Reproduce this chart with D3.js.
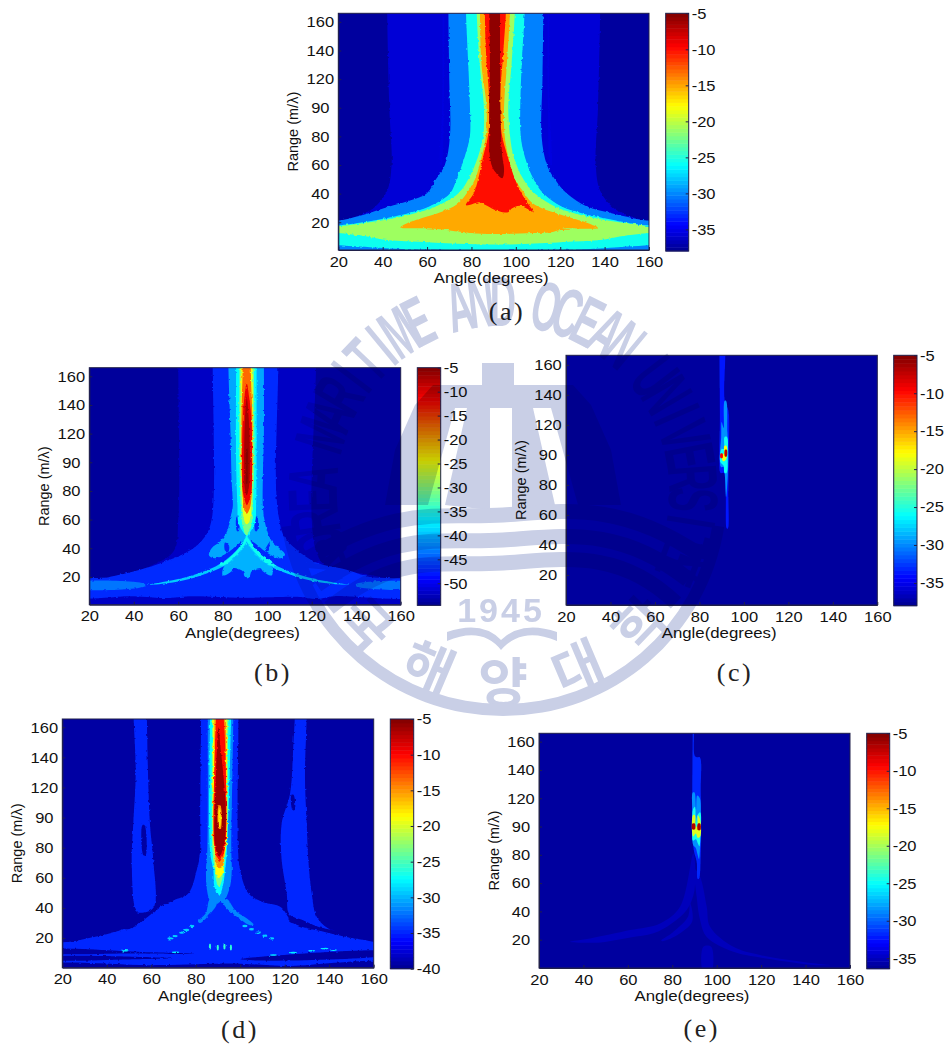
<!DOCTYPE html>
<html>
<head>
<meta charset="utf-8">
<style>
body { margin: 0; background: #fff; }
svg text { font-family: "Liberation Sans", Arial, sans-serif; fill: #111; }
.caption { font-family: "Liberation Serif", serif !important; font-size: 26px; letter-spacing: 2.5px; fill: #222; }
.watermark { mix-blend-mode: multiply; }
.watermark text { fill: #c9cfe6; font-weight: bold; }
</style>
<script src="https://cdn.jsdelivr.net/npm/d3@7"></script>
</head>
<body>
<svg id="chart" width="947" height="1044"></svg>
<script>
// axis ticks, same on every panel. the source figure prints "90" at the 100 position
var angleTicks = [20, 40, 60, 80, 100, 120, 140, 160];
var rangeTicks = [20, 40, 60, 80, 100, 120, 140, 160];
var rangeLabels = ["20", "40", "60", "80", "90", "120", "140", "160"];

// colorbar domains and ticks (dB)
var aColorDomain = [-38, -5], bColorDomain = [-54.6, -5], cColorDomain = [-38, -5], dColorDomain = [-40, -5], eColorDomain = [-36.4, -5];
var aColorTicks = [-5, -10, -15, -20, -25, -30, -35];
var bColorTicks = [-5, -10, -15, -20, -25, -30, -35, -40, -45, -50];
var cColorTicks = [-5, -10, -15, -20, -25, -30, -35];
var dColorTicks = [-5, -10, -15, -20, -25, -30, -35, -40];
var eColorTicks = [-5, -10, -15, -20, -25, -30, -35];

// contour outlines as [angle, range] pairs, level in dB next to each panel
var aNavy = [[42,170],[43,100],[44,60],[42,42],[36,30],[28,24],[20,20.5],[12,18],[12,-3],[168,-3],[168,18],[160,20.5],[152,24],[144,30],[138,42],[136,60],[137,100],[138,170]];
var aBlue = [[69.6,170],[70,120],[70.3,80],[68,60],[64,50],[59.8,40],[52,35],[43,31],[33,26],[22,21.6],[12,19],[12,-3],[168,-3],[168,19],[157,21.6],[144,26],[132,31],[123,40],[117.6,50],[114,60],[111.6,80],[112,120],[112.4,170]];
var aStripeL = [[67,170],[67.8,170],[67.5,100],[66.5,60],[66,60],[66.8,100]];
var aStripeR = [[114.3,170],[115,170],[115.2,100],[116,60],[115.5,60],[114.5,100]];
var aCyan = [[77.5,170],[78.6,129],[79.3,101],[79.3,80],[77,66],[73.3,50],[70.3,40],[61,31],[50.8,26],[37.3,21.6],[22,18],[12,16.5],[12,5],[20,4],[30,3],[50,1.2],[132,1.2],[150,3],[160,4],[168,5],[168,16.5],[157,18],[144,21.6],[130.4,26],[120.6,31],[112.4,40],[108,50],[104,66],[102.2,80],[102,101],[102.6,129],[104,170]];
var aLime = [[82.3,170],[83.8,129],[85.6,101],[85.3,80],[83,66],[78.6,50],[74,40],[64,31],[53.8,26],[38.8,21],[23.8,17.8],[12,16],[12,13.5],[20,12.5],[31,10.5],[40,8],[54,6.5],[74,5],[91,4.4],[106,5],[126,6.5],[140,8],[149,10.5],[160,12.5],[168,13.5],[168,16],[157,17.8],[142,21],[127,26],[117.6,31],[108.6,40],[103.4,50],[99,66],[97.4,80],[96.6,101],[98,129],[99.6,170]];
var aOrange = [[83.8,170],[84.6,129],[86.8,101],[86.5,80],[84.6,66],[81.6,50],[77.8,40],[75.6,35.6],[72,31],[66,27],[60,24],[51,19.3],[48,16.4],[60,15.8],[68,14.8],[74,13.5],[82,12.2],[95,11.8],[108,12.4],[116,13],[120,14.5],[125,15],[121,15.7],[129,15.5],[137,16],[132.6,19.3],[123,24],[110,31],[106,35.6],[104,40],[99.6,50],[96.6,66],[95,80],[94.7,101],[95.9,129],[97.4,170]];
var aRed = [[86,170],[86.5,140],[88,105],[87.6,82],[85.3,66],[83,50],[81,40],[77.5,32],[79,32],[83.5,34],[87,31.5],[91.5,28],[96.5,27],[98,29.5],[102,31.5],[108,27],[105,34],[102.6,40],[99.6,50],[96.3,66],[93.6,82],[92.9,105],[94.4,140],[95.6,170]];
var aDark = [[88,170],[88.3,129],[88,82],[88.3,66],[89.9,57],[93.9,50.7],[94.7,56.6],[93.9,66],[93.3,82],[92.9,129],[92.9,170]];
var aLevels = [-35.7, -30.2, -35.4, -35.4, -25.6, -21, -15.1, -10, -5.6];
var aBands = [aNavy, aBlue, aStripeL, aStripeR, aCyan, aLime, aOrange, aRed, aDark];

var bNavy = [[60,170],[60,60],[58,38],[48,28],[36,22],[20,17.5],[12,16],[12,-3],[168,-3],[168,16],[160,17.5],[144,22],[126,28],[122,38],[120,60],[122,170]];
var bBlue = [[75.5,170],[76,80],[75,60],[72.8,50],[66.8,40],[53,30],[42.8,25],[29,20],[12,16.5],[12,7],[40,6.5],[55,5.2],[65,6.5],[90,5.5],[115,6],[122,4.5],[130,6.5],[168,7],[168,16.5],[146,20],[135.7,25],[122,30],[112.5,40],[107,50],[105.4,60],[104,80],[105,170]];
var bStripL = [[12,15.5],[45,15],[45,13.5],[12,12.5]];
var bStripR = [[168,15.5],[140,15],[140,13.5],[168,12.5]];
var bSky = [[82.5,170],[83.5,120],[84,87],[84.5,69],[83.5,62],[82,52],[79,45],[75,40],[73.8,35],[76.5,33],[80,35],[84,39],[88,44],[91,46],[94,44],[98,39],[102,35],[106,33],[108,35.5],[105.5,40],[102,45],[100,52],[98.5,62],[98,70],[98,87],[98.5,120],[98.5,170]];
var bSpotL = [[81,44],[82.8,42],[82.5,37.5],[81,38.5]];
var bSpotR = [[100,42],[101,44],[100.5,38],[99,38.5]];
var bSlitL = [[86.2,62],[87,62],[87.2,52],[86.4,52]];
var bSlitR = [[94.8,62],[95.6,62],[95.4,52],[94.6,52]];
var bTriangle = [[91,44],[86,34.5],[80.5,27],[80,21],[84,24],[84.5,26],[89,24],[90,20],[91,19],[92,20],[93,24],[97,26],[98,24],[102,21],[102,27],[96,34.5]];
var bArcL = [[90.8,49],[87,40],[81.5,32],[75,26],[65,20.5],[55,17],[45.8,14.4],[55,15.5],[65,18.5],[73,22.5],[80,27],[85,32.5],[90.8,44]];
var bArcR = [[90.8,49],[94.6,40],[100,32],[106.6,26],[116.6,20.5],[126.6,17],[137,14.4],[126.6,15.5],[116.6,18.5],[108.6,22.5],[101.6,27],[96.6,32.5],[90.8,44]];
var bBrightL = [[90.8,48],[87,39.5],[82,32],[79,29],[78.5,28],[81,28.5],[85,33.5],[90.8,45]];
var bBrightR = [[90.8,48],[94.6,39.5],[100,33],[103,29],[103.5,28],[100.5,28.5],[96.6,33.5],[90.8,45]];
var bCyan = [[86,170],[86,100],[86.6,70],[87,58],[89.3,51],[90.8,47.7],[92.2,51],[94.5,58],[95,70],[95.2,100],[95.2,170]];
var bGreen = [[87.5,170],[87.5,100],[88.1,70],[88.9,56],[89.9,50.5],[90.8,49],[91.5,50.5],[92.9,56],[93.5,70],[94.2,100],[94,170]];
var bYellow = [[88.1,170],[88.1,100],[88.6,75],[89.3,62],[90.4,57],[91.4,57],[92.5,62],[93,75],[93.5,100],[93.5,170]];
var bOrange = [[89,170],[88.4,130],[88.4,100],[89,75],[89.6,68],[90.8,64],[92.2,68],[92.9,75],[93.3,100],[93.3,130],[92.5,170]];
var bRed = [[90.8,155],[89.7,145],[89,130],[88.7,100],[89,80],[90,73],[90.8,70],[91.8,73],[92.9,80],[93.2,100],[92.9,130],[91.9,145]];
var bDark = [[90.8,145],[90,130],[89.6,100],[89.9,82],[90.8,77],[91.7,82],[92.2,100],[91.7,130]];
var bCore = [[90.6,110],[91,110],[91.2,95],[91,85],[90.6,85],[90.5,95]];
var bLevels = [-52, -47, -43.5, -43.5, -41, -47, -47, -47, -47, -40.5, -39.2, -39.2, -36, -36, -36.5, -31, -25.5, -17, -11, -7, -5.3];
var bBands = [bNavy, bBlue, bStripL, bStripR, bSky, bSpotL, bSpotR, bSlitL, bSlitR, bTriangle, bArcL, bArcR, bBrightL, bBrightR, bCyan, bGreen, bYellow, bOrange, bRed, bDark, bCore];

var cBlue = [[89,170],[91.7,170],[91.5,135],[93,130],[93.2,100],[93,75],[92.8,51],[92.3,51],[91.8,75],[91,88],[89.5,88],[89,100],[89.2,125]];
var cSky = [[90,122],[90.9,118],[91.3,136],[92,136],[92.6,115],[93,100],[92.7,85],[92,72],[91.5,85],[91,92],[89.7,92],[89.2,100],[89.8,112]];
var cCyan = [[91.3,112],[92.4,112],[92.7,100],[92.2,88],[91.3,88],[90.8,93],[89.5,95],[89.2,99],[90,104],[91,104]];
var cYellow = [[91.2,106],[92.2,106],[92.2,98],[91.3,96],[90.5,96],[90.2,100],[91,101]];
var cRedL = [[89.5,101],[90.4,101],[90.4,98],[89.5,98]];
var cRedR = [[91.5,103.5],[92.3,103.5],[92.3,99],[91.5,99]];
var cLevels = [-33.7, -29.7, -25.8, -18.2, -9.3, -7];
var cBands = [cBlue, cSky, cCyan, cYellow, cRedL, cRedR];

var dBlue = [[82.4,170],[82,100],[82,78.5],[80.4,65],[76.7,49.7],[70,45],[64,40.8],[56.4,32],[43.7,24],[28,18.7],[12,13],[12,-3],[168,-3],[168,13.5],[158,18],[150,20],[138,24],[124,30],[118,40.8],[110,44],[103.6,49.7],[100,65],[99,78.5],[99.2,170]];
var dRightCol = [[124.6,170],[129.9,170],[129.1,127],[129.9,96],[130.6,72],[132.1,50],[134.4,34],[139.6,26.4],[143,25],[135,27.5],[128,32],[122,36],[120.9,50],[118.6,72],[118.6,96],[122.4,116],[123.9,149]];
var dLeftCol = [[52,170],[58,170],[59.4,96],[60.9,72],[60.9,40],[54,37],[52.7,40],[51.2,72],[51.9,96],[53,130]];
var dGapR = [[122,34],[128,31],[135,26],[138,25],[128,28.5],[122,31]];
var dGapL = [[46,27],[55,34],[57,33],[50,26]];
var dSpeckL = [[56,95],[57,95],[57.5,75],[56.5,75]];
var dSpeckR = [[123,115],[124,115],[124.5,105],[123.5,105]];
var dStreakA = [[12,12],[60,10.5],[80,9.5],[50,9.8],[12,10.5]];
var dStreakB = [[12,7],[70,6.5],[50,5.8],[12,6]];
var dStreakC = [[100,6],[168,11],[168,9.5],[110,5]];
var dStreakD = [[12,1.5],[60,2],[90,3],[100,3],[120,1.5],[168,3],[168,-3],[12,-3]];
var dSky = [[85.4,170],[85.2,78.5],[84.6,65],[84.9,54],[86.4,45],[89.4,42.7],[91,44],[92.5,42.7],[93.2,45],[95.4,54],[96.2,65],[96,78.5],[96.9,170]];
var dArcL = [[86.4,46],[89.4,43],[85.7,35],[82,30],[81,31],[84.5,36.5]];
var dArcR = [[92.5,43],[94,46],[98,38],[103,33],[106,29],[104.5,28.5],[100,32.5]];
var dCyan = [[86.4,170],[86.4,78],[87.9,65],[88.4,54],[90.5,48],[92.1,54],[93.2,65],[94,78],[95.9,170]];
var dGreen = [[87.3,170],[87.5,78],[88.5,65],[89.2,58],[90.5,54],[91.7,58],[92.6,65],[93.4,78],[94.7,170]];
var dYellow = [[87.9,170],[87.9,83],[88.7,74],[89.1,63],[90.2,59.7],[92.1,63],[92.9,74],[93.9,83],[93.9,170]];
var dOrange = [[88.4,170],[88.4,90],[88.7,76],[89.5,68],[90.8,66.3],[92.2,68],[92.9,76],[93.6,90],[93.6,170]];
var dRed = [[89.2,170],[88.7,149],[88.2,83],[89.5,74],[90.6,70.7],[92,74],[93.4,83],[93.2,149],[92.5,170]];
var dDark = [[90.2,160],[89.5,144],[89,127],[88.5,105],[88.5,85],[89.5,77],[90.5,74],[91.7,77],[93,85],[93.5,105],[92.5,127],[91.3,144]];
var dRing = [[90.3,108],[91.1,108],[91.2,92],[90.4,92]];
var dHole = [[90.5,106],[90.9,106],[91,94],[90.6,94]];
var dLevels = [-34.8, -34.8, -34.8, -39.3, -39.3, -39.3, -39.3, -39.3, -39.3, -39.3, -39.3, -31.5, -31.5, -31.5, -27.4, -23, -18.6, -14.8, -10.2, -6, -15, -18];
var dBands = [dBlue, dRightCol, dLeftCol, dGapR, dGapL, dSpeckL, dSpeckR, dStreakA, dStreakB, dStreakC, dStreakD, dSky, dArcL, dArcR, dCyan, dGreen, dYellow, dOrange, dRed, dDark, dRing, dHole];
// small isolated blobs in (d)
var dDots = [[68.4,19.8],[70.7,21.3],[73.7,23.6],[75.9,25.3],[78.2,28],[102.1,28],[105.1,25.8],[108.1,23.6],[111.1,21.6],[114.1,19.8]];
var dSpikes = [[86.4,14.3],[89.9,13.8],[92.9,14.3],[95.8,13.8]];
var dDashes = [[114.9,8.7],[123.9,10.3],[132.1,11.6],[138.1,13],[141.9,12],[70.7,10.5],[48.2,11.6]];

var eConeL = [[89.5,81],[83.5,43.3],[74.5,31.5],[61,26.8],[43,20.9],[34,18.6],[46,17.9],[61,21.6],[71.5,24.5],[79.7,31.5],[86.5,41],[90,55]];
var eConeR = [[92.5,64.5],[95.5,43.3],[97,29.2],[107.5,15],[119.5,9.2],[143.5,3.3],[151,2],[143.5,2.2],[119.5,7.5],[107.5,11.5],[95.5,22],[92.5,34],[91,50],[90,70]];
var eStrand = [[88,46],[87,36],[80,25],[75,19.5],[76,19],[83,24],[89,33]];
var eFoot = [[94,15],[97.5,15],[97.5,-3],[94,-3]];
var eBlue = [[89.2,170],[89.8,170],[90.1,150],[91,149],[92.4,149],[92.8,125],[93,100],[92.8,80],[92,63],[91.4,63],[91,75],[89.7,83],[89,100],[89,125]];
var eSky = [[89.2,124],[90,124],[90.7,112],[91.2,122],[92.4,120],[92.7,100],[92.5,85],[92,77],[91.4,80],[90.5,85],[89.4,87],[89,100],[89,112]];
var eCyan = [[89.3,112],[90.2,114],[90.6,102],[91.3,108],[92.6,110],[92.7,94],[92.2,86],[91.5,88],[90.6,91],[89.3,90],[89.1,100]];
var eYellow = [[89.3,108],[90.2,108],[90.6,100],[91.2,100],[91.5,108],[92.5,105],[92.6,93],[91.4,92],[90.6,95],[89.4,93]];
var eRedL = [[89,102],[90.2,102],[90.2,98],[89,98]];
var eRedR = [[91.5,102],[92.6,102],[92.6,97.5],[91.5,97.5]];
var eLevels = [-35, -35, -35, -35, -31.7, -28.5, -24.5, -18.2, -6.5, -6.5];
var eBands = [eConeL, eConeR, eStrand, eFoot, eBlue, eSky, eCyan, eYellow, eRedL, eRedR];

// MATLAB jet
var jet = d3.scaleLinear()
    .domain([0, 0.11, 0.36, 0.61, 0.86, 1])
    .range(["#00008f", "#0000ff", "#00ffff", "#ffff00", "#ff0000", "#800000"]);

var svg = d3.select("#chart");
svg.append("rect").attr("width", 947).attr("height", 1044).attr("fill", "#fff");

var defs = svg.append("defs");

// contour edges in the scan are rough, so roughen the edge a bit before softening it
function addFilter(id, rough) {
  var f = defs.append("filter").attr("id", id)
      .attr("x", -0.05).attr("y", -0.05).attr("width", 1.1).attr("height", 1.1);
  f.append("feTurbulence").attr("type", "fractalNoise").attr("baseFrequency", 0.35)
      .attr("numOctaves", 1).attr("seed", 4).attr("result", "n");
  f.append("feDisplacementMap").attr("in", "SourceGraphic").attr("in2", "n")
      .attr("scale", rough).attr("xChannelSelector", "R").attr("yChannelSelector", "G").attr("result", "d");
  f.append("feGaussianBlur").attr("in", "d").attr("stdDeviation", 0.5);
}
addFilter("rough", 3);
addFilter("soft", 0);

// widen glyphs a little, the source scan is stretched horizontally
function stretch(sel, k) {
  sel.each(function() {
    this.setAttribute("textLength", this.getComputedTextLength() * k);
    this.setAttribute("lengthAdjust", "spacingAndGlyphs");
  });
}

// carry outlines straight past the top of the axes so the smoothing doesn't bulge inside the plot
function extendTop(band) {
  var out = [], n = band.length;
  band.forEach(function(d, i) {
    var prevTop = band[(i + n - 1) % n][1] >= 170, nextTop = band[(i + 1) % n][1] >= 170;
    if (d[1] < 170) out.push(d);
    else if (!nextTop) out.push([d[0], 210], d);
    else if (!prevTop) out.push(d, [d[0], 210]);
    else out.push(d);
  });
  return out;
}

function drawPanel(p) {
  var x = d3.scaleLinear().domain([20, 160]).range([p.left, p.right]);
  var y = d3.scaleLinear().domain([p.rangeMin, p.rangeMax]).range([p.bottom, p.top]);
  var color = d3.scaleLinear().domain(p.colorDomain).range([0, 1]);
  var fill = function(v) { return jet(color(v)); };

  defs.append("clipPath").attr("id", "clip-" + p.name)
    .append("rect")
      .attr("x", p.left).attr("y", p.top)
      .attr("width", p.right - p.left).attr("height", p.bottom - p.top);

  var plot = svg.append("g").attr("clip-path", "url(#clip-" + p.name + ")")
    .append("g").attr("filter", "url(#" + p.filter + ")");

  plot.append("rect")
      .attr("x", p.left - 6).attr("y", p.top - 6)
      .attr("width", p.right - p.left + 12).attr("height", p.bottom - p.top + 12)
      .attr("fill", fill(p.background));

  var outline = d3.line()
      .x(function(d) { return x(d[0]); })
      .y(function(d) { return y(d[1]); })
      .curve(d3.curveCatmullRomClosed.alpha(0.5));

  plot.selectAll("path")
    .data(p.bands)
    .enter().append("path")
      .attr("d", function(d) { return outline(extendTop(d)); })
      .attr("fill", function(d, i) { return fill(p.levels[i]); });

  (p.blobs || []).forEach(function(b) {
    plot.selectAll(null)
      .data(b.points)
      .enter().append("ellipse")
        .attr("cx", function(d) { return x(d[0]); })
        .attr("cy", function(d) { return y(d[1]); })
        .attr("rx", b.rx).attr("ry", b.ry)
        .attr("fill", fill(b.level));
  });

  var xAxis = svg.append("g")
      .attr("transform", "translate(0," + p.bottom + ")")
      .call(d3.axisBottom(x).tickValues(angleTicks).tickSizeInner(-3).tickSizeOuter(0).tickPadding(6));
  var yAxis = svg.append("g")
      .attr("transform", "translate(" + p.left + ",0)")
      .call(d3.axisLeft(y).tickValues(rangeTicks).tickSizeInner(-3).tickSizeOuter(0)
        .tickFormat(function(d, i) { return rangeLabels[i]; }));
  // the labels sit centred in their column in the original
  yAxis.selectAll("text").attr("x", -18).attr("text-anchor", "middle");

  // box around the plot
  svg.append("rect")
      .attr("x", p.left).attr("y", p.top)
      .attr("width", p.right - p.left).attr("height", p.bottom - p.top)
      .attr("fill", "none").attr("stroke", "#20204a").attr("stroke-width", 1);

  [xAxis, yAxis].forEach(function(a) {
    a.selectAll("text").attr("font-size", 15).style("font-size", "15px");
    a.select(".domain").attr("stroke", "#20204a");
    a.selectAll(".tick line").attr("stroke", "#20204a");
    stretch(a.selectAll("text"), 1.1);
  });

  var xTitle = svg.append("text")
      .attr("x", (p.left + p.right) / 2 - 2.5)
      .attr("y", p.bottom + 33)
      .attr("text-anchor", "middle")
      .style("font-size", "15px")
      .text("Angle(degrees)");
  stretch(xTitle, 1.12);

  svg.append("text")
      .attr("transform", "translate(" + (p.left - 40.5) + "," + ((p.top + p.bottom) / 2) + ") rotate(-90)")
      .attr("text-anchor", "middle")
      .style("font-size", "14.5px")
      .text("Range (m/\u03bb)");

  // colorbar
  var cy = d3.scaleLinear().domain(p.colorDomain).range([p.barBottom, p.top]);
  var steps = d3.range(64);
  svg.append("g").selectAll("rect")
    .data(steps)
    .enter().append("rect")
      .attr("x", p.barLeft)
      .attr("width", p.barRight - p.barLeft)
      .attr("y", function(d) { return p.barBottom - (d + 1) / 64 * (p.barBottom - p.top); })
      .attr("height", (p.barBottom - p.top) / 64 + 0.5)
      .attr("fill", function(d) { return jet((d + 0.5) / 64); });
  svg.append("rect")
      .attr("x", p.barLeft).attr("y", p.top)
      .attr("width", p.barRight - p.barLeft).attr("height", p.barBottom - p.top)
      .attr("fill", "none").attr("stroke", "#20204a");

  var barAxis = svg.append("g")
      .attr("transform", "translate(" + p.barRight + ",0)")
      .call(d3.axisRight(cy).tickValues(p.colorTicks).tickSizeInner(-3).tickSizeOuter(0).tickPadding(3)
        .tickFormat(function(d) { return String(d); }));
  barAxis.select(".domain").attr("stroke", "none");
  barAxis.selectAll(".tick line").attr("stroke", "#20204a");
  barAxis.selectAll("text").style("font-size", "15px");
  stretch(barAxis.selectAll("text"), 1.1);

  svg.append("text")
      .attr("class", "caption")
      .attr("x", p.captionX).attr("y", p.captionY)
      .attr("text-anchor", "middle")
      .text(p.caption);
}

drawPanel({name: "a", filter: "rough", left: 338.3, right: 649, top: 13.3, bottom: 250, rangeMin: 0.6, rangeMax: 166,
  barLeft: 665.7, barRight: 688.7, barBottom: 251, colorDomain: aColorDomain, colorTicks: aColorTicks,
  background: -37.5, bands: aBands, levels: aLevels, caption: "(a)", captionX: 507, captionY: 320});
drawPanel({name: "b", filter: "rough", left: 89.3, right: 400.7, top: 367.7, bottom: 604.7, rangeMin: 0.6, rangeMax: 166,
  barLeft: 417.3, barRight: 440.7, barBottom: 605.3, colorDomain: bColorDomain, colorTicks: bColorTicks,
  background: -54, bands: bBands, levels: bLevels, caption: "(b)", captionX: 273, captionY: 681});
drawPanel({name: "c", filter: "soft", left: 566, right: 877.3, top: 355.3, bottom: 605, rangeMin: 0, rangeMax: 166.4,
  barLeft: 893.7, barRight: 917, barBottom: 605.7, colorDomain: cColorDomain, colorTicks: cColorTicks,
  background: -37.5, bands: cBands, levels: cLevels, caption: "(c)", captionX: 735, captionY: 681});
drawPanel({name: "d", filter: "rough", left: 62.3, right: 373.7, top: 719, bottom: 967.7, rangeMin: 0.3, rangeMax: 165.5,
  barLeft: 390.3, barRight: 413.7, barBottom: 968.7, colorDomain: dColorDomain, colorTicks: dColorTicks,
  background: -39.3, bands: dBands, levels: dLevels, caption: "(d)", captionX: 240, captionY: 1038,
  blobs: [{points: dDots, rx: 2.6, ry: 1.2, level: -29}, {points: dSpikes, rx: 1.1, ry: 3, level: -26}, {points: dDashes, rx: 3.5, ry: 0.8, level: -28}]});
drawPanel({name: "e", filter: "soft", left: 539, right: 850, top: 733.3, bottom: 968, rangeMin: 0, rangeMax: 165.9,
  barLeft: 866.7, barRight: 889.7, barBottom: 968.7, colorDomain: eColorDomain, colorTicks: eColorTicks,
  background: -35.9, bands: eBands, levels: eLevels, caption: "(e)", captionX: 701.7, captionY: 1037});

// university seal printed over the whole page as a watermark
var wmColor = "#c9cfe6", cx = 503, cy = 492;
var wm = svg.append("g").attr("class", "watermark");

function placeOnRing(chars, radius, step, size, xScale, bottom, family) {
  var mid = (chars.length - 1) / 2;
  wm.append("g").selectAll("text")
    .data(chars)
    .enter().append("text")
      .attr("text-anchor", "middle")
      .attr("dominant-baseline", "central")
      .attr("transform", function(d, i) {
        var deg = (i - mid) * step;
        var a = (bottom ? 180 - deg : deg) * Math.PI / 180;
        return "translate(" + (cx + radius * Math.sin(a)) + "," + (cy - radius * Math.cos(a)) + ")" +
          " rotate(" + (bottom ? -deg : deg) + ") scale(" + xScale + ",1)";
      })
      .style("font-family", family)
      .style("font-size", size + "px")
      .text(function(d) { return d; });
}
placeOnRing("KOREA MARITIME AND OCEAN UNIVERSITY".split(""), 190, 6.6, 70, 0.52, false, "'Liberation Sans'");
placeOnRing("\ud55c\uad6d\ud574\uc591\ub300\ud559\uad50".split(""), 187, 23, 54, 1, true, "'Noto Sans CJK KR'");

// outer ring along the bottom
wm.append("path")
    .attr("transform", "translate(" + cx + "," + cy + ")")
    .attr("d", d3.arc()({innerRadius: 212, outerRadius: 224, startAngle: Math.PI * 0.55, endAngle: Math.PI * 1.45}))
    .attr("fill", wmColor);

// anchor
var anchorShapes = [
  [[482,363],[514,363],[514,385],[482,385]],
  [[433,385],[573,385],[573,408],[433,408]],
  [[467,408],[490,408],[490,510],[445,505]],
  [[512,408],[533,408],[555,505],[512,510]],
  [[433,385],[455,408],[428,505],[385,505],[395,450],[415,405]],
  [[573,385],[551,408],[578,505],[621,505],[611,450],[591,405]]
];
wm.selectAll(null)
  .data(anchorShapes)
  .enter().append("path")
    .attr("d", d3.line().curve(d3.curveLinearClosed))
    .attr("fill", wmColor);

// waves
[515, 540, 563].forEach(function(yy, i) {
  wm.append("path")
      .attr("d", "M" + (305 + i * 12) + "," + (yy + 45) + "C" + (400) + "," + (yy - 12) + " 440," + (yy + 4) + " 503," + yy + "S" + (620) + "," + (yy - 14) + " " + (700 - i * 12) + "," + (yy + 40))
      .attr("fill", "none").attr("stroke", wmColor).attr("stroke-width", 15);
});

wm.append("text")
    .attr("x", 501).attr("y", 622)
    .attr("text-anchor", "middle")
    .style("font-size", "34px").style("letter-spacing", "3px")
    .text("1945");

// book
wm.append("path")
    .attr("d", "M447,641Q482,626 501,650Q522,626 557,641L557,632Q522,620 501,640Q482,620 447,632Z")
    .attr("fill", wmColor);
</script>
</body>
</html>
